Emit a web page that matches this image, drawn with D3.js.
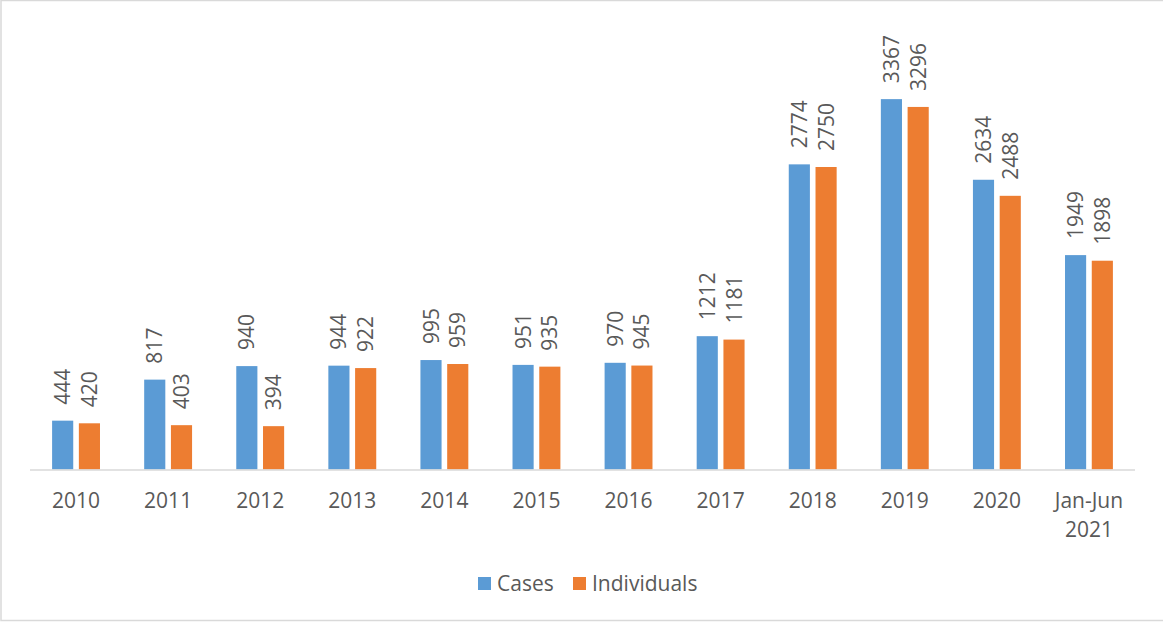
<!DOCTYPE html>
<html>
<head>
<meta charset="utf-8">
<script src="https://cdn.jsdelivr.net/npm/d3@7"></script>
<style>
  html, body { margin: 0; padding: 0; background: #fff; }
  svg text { font-family: "Open Sans", "DejaVu Sans", sans-serif; fill: #595959; }
</style>
</head>
<body>
<svg id="chart"></svg>
<script>
// Chart data
const categories = ["2010", "2011", "2012", "2013", "2014", "2015", "2016", "2017", "2018", "2019", "2020", "Jan-Jun\n2021"];
const seriesNames = ["Cases", "Individuals"];
const cases = [444, 817, 940, 944, 995, 951, 970, 1212, 2774, 3367, 2634, 1949];
const individuals = [420, 403, 394, 922, 959, 935, 945, 1181, 2750, 3296, 2488, 1898];

const COLORS = ["#5B9BD5", "#ED7D31"];

// Canvas properties
const CANVAS_WIDTH = 1163;
const CANVAS_HEIGHT = 622;
const FONT_SIZE = "21px";

const svg = d3.select("#chart")
  .attr("width", CANVAS_WIDTH)
  .attr("height", CANVAS_HEIGHT);

// Chart frame
svg.append("rect")
  .attr("x", 1)
  .attr("y", 0.5)
  .attr("width", CANVAS_WIDTH + 10)
  .attr("height", 620)
  .attr("fill", "#fff")
  .attr("stroke", "#d9d9d9")
  .attr("stroke-width", 1.5);

// Scales
const x0 = d3.scaleBand()
  .domain(categories)
  .range([30, 1135])
  .paddingInner(0.48)
  .paddingOuter(0.24);

const x1 = d3.scaleBand()
  .domain(seriesNames)
  .range([0, x0.bandwidth()])
  .paddingInner(0.21);

const y = d3.scaleLinear()
  .domain([0, 4000])
  .range([469.5, 29.5]);

const color = d3.scaleOrdinal().domain(seriesNames).range(COLORS);

// Turn the arrays into rows for each category
const rows = categories.map((cat, i) => ({
  cat: cat,
  values: [
    { name: "Cases", value: cases[i] },
    { name: "Individuals", value: individuals[i] }
  ]
}));

const groups = svg.append("g")
  .selectAll("g")
  .data(rows)
  .enter()
  .append("g")
  .attr("transform", (d) => `translate(${x0(d.cat)},0)`);

// Bars
groups.selectAll("rect")
  .data((d) => d.values)
  .enter()
  .append("rect")
  .attr("x", (d) => x1(d.name))
  .attr("y", (d) => y(d.value))
  .attr("width", x1.bandwidth())
  .attr("height", (d) => y(0) - y(d.value))
  .attr("fill", (d) => color(d.name));

// Rotated value labels above each bar
groups.selectAll("text.value")
  .data((d) => d.values)
  .enter()
  .append("text")
  .attr("class", "value")
  .attr("transform", (d) => `translate(${x1(d.name) + x1.bandwidth() / 2},${y(d.value) - 16}) rotate(-90)`)
  .attr("dy", "0.36em")
  .style("font-size", FONT_SIZE)
  .text((d) => d.value);

// Category axis line
svg.append("line")
  .attr("x1", x0.range()[0])
  .attr("x2", x0.range()[1])
  .attr("y1", 470)
  .attr("y2", 470)
  .attr("stroke", "#d9d9d9")
  .attr("stroke-width", 1.5);

// Category labels (may wrap on two lines)
const catLabels = svg.append("g")
  .selectAll("text")
  .data(categories)
  .enter()
  .append("text")
  .attr("x", (d) => x0(d) + x0.bandwidth() / 2)
  .attr("y", 508)
  .attr("text-anchor", "middle")
  .style("font-size", FONT_SIZE);

catLabels.each(function (d) {
  const lines = d.split("\n");
  d3.select(this)
    .selectAll("tspan")
    .data(lines)
    .enter()
    .append("tspan")
    .attr("x", x0(d) + x0.bandwidth() / 2)
    .attr("dy", (line, i) => (i === 0 ? 0 : 29))
    .text((line) => line);
});

// Legend
const legendX = [478, 573];
const legend = svg.append("g")
  .selectAll("g")
  .data(seriesNames)
  .enter()
  .append("g")
  .attr("transform", (d, i) => `translate(${legendX[i]},0)`);

legend.append("rect")
  .attr("x", 0)
  .attr("y", 577)
  .attr("width", 13)
  .attr("height", 13)
  .attr("fill", (d) => color(d));

legend.append("text")
  .attr("x", 19)
  .attr("y", 590.5)
  .style("font-size", FONT_SIZE)
  .text((d) => d);
</script>
</body>
</html>
